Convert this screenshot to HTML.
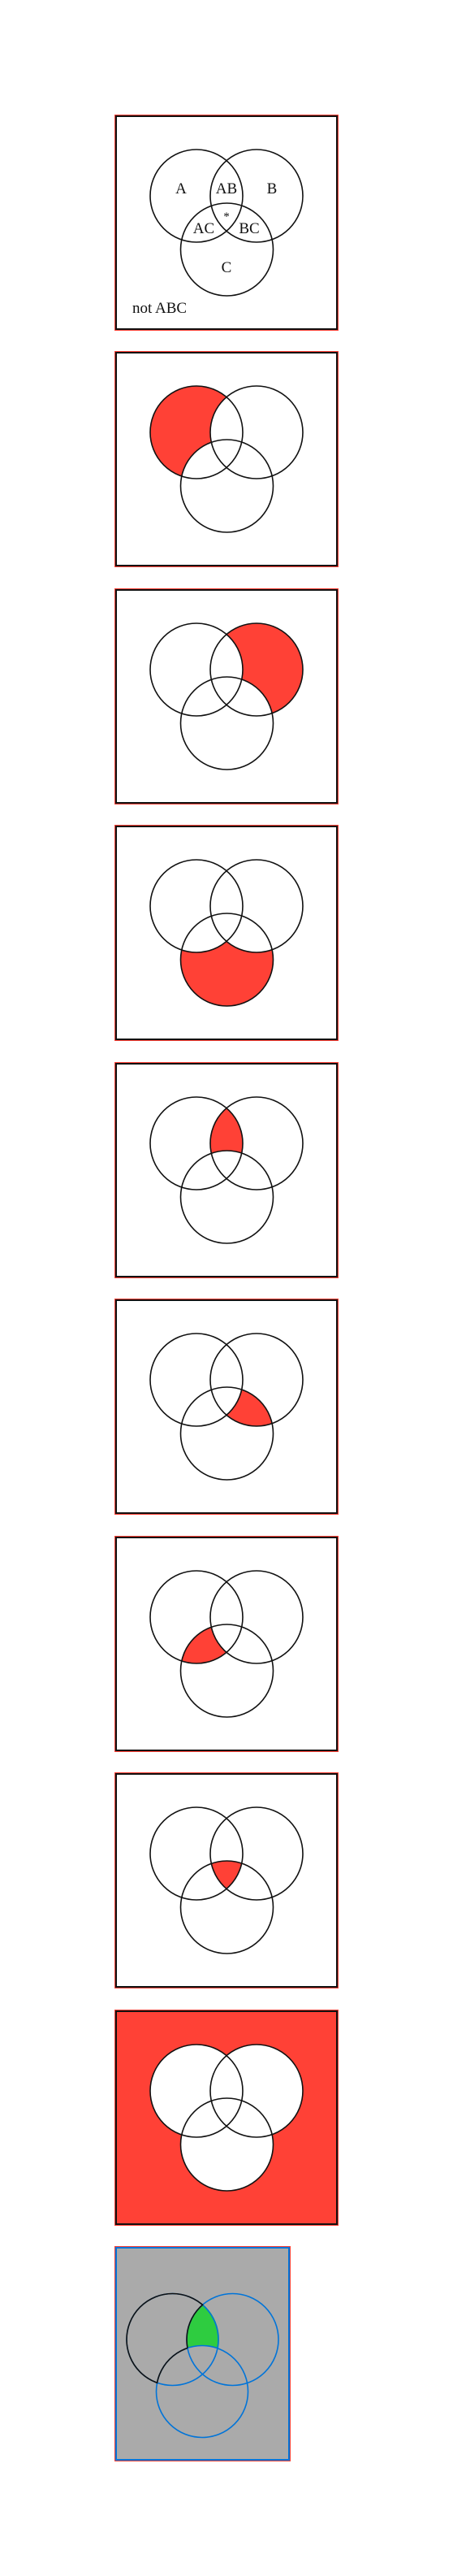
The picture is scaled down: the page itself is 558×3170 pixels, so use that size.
<!DOCTYPE html>
<html><head><meta charset="utf-8"><style>
html,body{margin:0;padding:0;background:#fff;}
svg{display:block;}
text{font-family:"Liberation Serif",serif;font-size:19px;fill:#111;}
</style></head><body>
<svg width="558" height="3170" viewBox="0 0 558 3170" xmlns="http://www.w3.org/2000/svg">
<defs>
<circle id="cA" cx="101" cy="100" r="57"/>
<circle id="cB" cx="175" cy="100" r="57"/>
<circle id="cC" cx="138.5" cy="166" r="57"/>
<clipPath id="clipA"><circle cx="101" cy="100" r="57"/></clipPath>
<clipPath id="clipB"><circle cx="175" cy="100" r="57"/></clipPath>
<g id="frame"><rect x="0.5" y="0.5" width="275" height="265" fill="none" stroke="#ff4136" stroke-width="1"/><rect x="2" y="2" width="272" height="262" fill="none" stroke="#111" stroke-width="2"/></g>
<g id="outlines" fill="none" stroke="#111" stroke-width="1.6"><use href="#cA"/><use href="#cB"/><use href="#cC"/></g>
<clipPath id="clipA10"><circle cx="212.5" cy="2879" r="57.5"/></clipPath>
<mask id="maskA10"><rect x="0" y="2700" width="558" height="400" fill="#fff"/><circle cx="286.5" cy="2879" r="56.5" fill="#000"/><circle cx="249" cy="2943" r="56.5" fill="#000"/></mask>
<mask id="maskNotC10"><rect x="0" y="2700" width="558" height="400" fill="#fff"/><circle cx="249" cy="2943" r="56.5" fill="#000"/></mask>
<mask id="maskNotB10"><rect x="0" y="2700" width="558" height="400" fill="#fff"/><circle cx="286.5" cy="2879" r="56.5" fill="#000"/></mask>
</defs>

<g transform="translate(141,141)">
<rect width="276" height="266" fill="#fff"/>
<use href="#outlines"/>
<use href="#frame"/>
<text x="82" y="97" text-anchor="middle">A</text>
<text x="138" y="97" text-anchor="middle">AB</text>
<text x="194" y="97" text-anchor="middle">B</text>
<text x="138" y="130" text-anchor="middle" style="font-size:15px">*</text>
<text x="110" y="146" text-anchor="middle">AC</text>
<text x="166" y="146" text-anchor="middle">BC</text>
<text x="138" y="194" text-anchor="middle">C</text>
<text x="22" y="244">not ABC</text>
</g>

<g transform="translate(141,432)">
<rect width="276" height="266" fill="#fff"/>
<use href="#cA" fill="#ff4136"/><use href="#cB" fill="#fff"/><use href="#cC" fill="#fff"/>
<use href="#outlines"/><use href="#frame"/>
</g>

<g transform="translate(141,724)">
<rect width="276" height="266" fill="#fff"/>
<use href="#cB" fill="#ff4136"/><use href="#cA" fill="#fff"/><use href="#cC" fill="#fff"/>
<use href="#outlines"/><use href="#frame"/>
</g>

<g transform="translate(141,1015)">
<rect width="276" height="266" fill="#fff"/>
<use href="#cC" fill="#ff4136"/><use href="#cA" fill="#fff"/><use href="#cB" fill="#fff"/>
<use href="#outlines"/><use href="#frame"/>
</g>

<g transform="translate(141,1307)">
<rect width="276" height="266" fill="#fff"/>
<g clip-path="url(#clipA)"><use href="#cB" fill="#ff4136"/></g><use href="#cC" fill="#fff"/>
<use href="#outlines"/><use href="#frame"/>
</g>

<g transform="translate(141,1598)">
<rect width="276" height="266" fill="#fff"/>
<g clip-path="url(#clipB)"><use href="#cC" fill="#ff4136"/></g><use href="#cA" fill="#fff"/>
<use href="#outlines"/><use href="#frame"/>
</g>

<g transform="translate(141,1890)">
<rect width="276" height="266" fill="#fff"/>
<g clip-path="url(#clipA)"><use href="#cC" fill="#ff4136"/></g><use href="#cB" fill="#fff"/>
<use href="#outlines"/><use href="#frame"/>
</g>

<g transform="translate(141,2181)">
<rect width="276" height="266" fill="#fff"/>
<g clip-path="url(#clipA)"><g clip-path="url(#clipB)"><use href="#cC" fill="#ff4136"/></g></g>
<use href="#outlines"/><use href="#frame"/>
</g>

<g transform="translate(141,2473)">
<rect width="276" height="266" fill="#ff4136"/>
<use href="#cA" fill="#fff"/><use href="#cB" fill="#fff"/><use href="#cC" fill="#fff"/>
<use href="#outlines"/><use href="#frame"/>
</g>

<g>
<rect x="141" y="2764" width="217" height="265" fill="#aaaaaa"/>
<rect x="141.5" y="2764.5" width="216" height="264" fill="none" stroke="#ff4136" stroke-width="1"/>
<rect x="143" y="2766" width="213" height="261" fill="none" stroke="#0074d9" stroke-width="2"/>
<g clip-path="url(#clipA10)"><circle cx="286.5" cy="2879" r="56.5" fill="#2ecc40" mask="url(#maskNotC10)"/></g>
<g fill="none" stroke-width="1.6">
<circle cx="212.5" cy="2879" r="56.5" stroke="#0074d9"/>
<circle cx="286.5" cy="2879" r="56.5" stroke="#0074d9"/>
<circle cx="249" cy="2943" r="56.5" stroke="#0074d9"/>
<circle cx="212.5" cy="2879" r="56.5" stroke="#111" mask="url(#maskA10)"/>
<g clip-path="url(#clipA10)">
<circle cx="286.5" cy="2879" r="56.5" stroke="#111" mask="url(#maskNotC10)"/>
<circle cx="249" cy="2943" r="56.5" stroke="#111" mask="url(#maskNotB10)"/>
</g>
</g>
</g>
</svg>
</body></html>
